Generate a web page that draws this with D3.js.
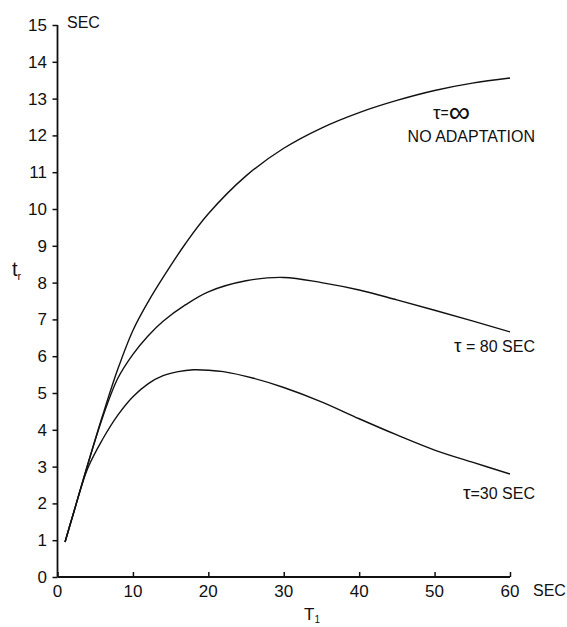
<!DOCTYPE html>
<html>
<head>
<meta charset="utf-8">
<script src="https://cdn.jsdelivr.net/npm/d3@7"></script>
<style>
  html, body { margin: 0; padding: 0; background: #fff; }
  svg text { font-family: "Liberation Sans", Arial, sans-serif; fill: #111; }
</style>
</head>
<body>
<svg id="chart" width="567" height="627"></svg>
<script>
// ---- data ----
const xTicks = [0, 10, 20, 30, 40, 50, 60];
const yTicks = [0, 1, 2, 3, 4, 5, 6, 7, 8, 9, 10, 11, 12, 13, 14, 15];
const T1 = [1, 2, 4, 6, 8, 10, 12, 14, 17, 20, 25, 30, 35, 40, 45, 50, 55, 60];
const noAdaptation = [0.95, 1.65, 3.05, 4.4, 5.65, 6.7, 7.47, 8.14, 9.07, 9.87, 10.9, 11.65, 12.2, 12.62, 12.95, 13.22, 13.42, 13.56];
const tau80 =        [0.95, 1.65, 3.05, 4.35, 5.4, 6.05, 6.55, 6.95, 7.4, 7.75, 8.05, 8.14, 8.0, 7.8, 7.53, 7.25, 6.96, 6.66];
const T1b = [1, 2, 4, 6, 8, 10, 12, 14, 16, 18, 20, 22, 26, 30, 35, 40, 45, 50, 55, 60];
const tau30 =        [0.95, 1.65, 2.95, 3.75, 4.4, 4.9, 5.25, 5.47, 5.58, 5.63, 5.62, 5.58, 5.4, 5.15, 4.76, 4.3, 3.86, 3.45, 3.12, 2.8];

const series = [
  { name: "inf", x: T1, y: noAdaptation },
  { name: "80", x: T1, y: tau80 },
  { name: "30", x: T1b, y: tau30 }
];

const svg = d3.select("#chart");
const x = d3.scaleLinear().domain([0, 60]).range([57.5, 510]);
const y = d3.scaleLinear().domain([0, 15]).range([577, 25]);

// axes
const xAxis = d3.axisTop(x).tickValues(xTicks).tickSize(5).tickFormat("");
const gx = svg.append("g").attr("transform", `translate(0,${y(0)})`).call(xAxis);
gx.select(".domain").attr("stroke", "#111").attr("stroke-width", 1.8).attr("d", `M${x(0)},0H${x(60)}`);
gx.selectAll(".tick line").attr("stroke", "#111").attr("stroke-width", 1.5);

const yAxis = d3.axisLeft(y).tickValues(yTicks).tickSize(5).tickFormat("");
const gy = svg.append("g").attr("transform", `translate(${x(0)},0)`).call(yAxis);
gy.select(".domain").attr("stroke", "#111").attr("stroke-width", 1.8).attr("d", `M0,${y(15)}V${y(0)}`);
gy.selectAll(".tick line").attr("stroke", "#111").attr("stroke-width", 1.5);

// tick labels
svg.append("g").selectAll("text").data(xTicks).join("text")
  .attr("x", d => x(d)).attr("y", 597)
  .attr("text-anchor", "middle").attr("font-size", 17)
  .text(d => d);
svg.append("g").selectAll("text").data(yTicks).join("text")
  .attr("x", 47).attr("y", d => y(d) + 6)
  .attr("text-anchor", "end").attr("font-size", 17)
  .text(d => d);

// units
svg.append("text").attr("x", 67).attr("y", 28).attr("font-size", 16).text("SEC");
svg.append("text").attr("x", 533).attr("y", 596).attr("font-size", 16).text("SEC");

// axis titles
const yt = svg.append("text").attr("x", 12).attr("y", 276).attr("font-size", 20);
yt.append("tspan").text("t");
yt.append("tspan").attr("font-size", 11).attr("dy", 4).text("r");
const xt = svg.append("text").attr("x", 304).attr("y", 620).attr("font-size", 17);
xt.append("tspan").text("T");
xt.append("tspan").attr("font-size", 10).attr("dy", 3).text("1");

// curves
const line = d3.line().x(d => x(d[0])).y(d => y(d[1])).curve(d3.curveCatmullRom.alpha(0.5));
svg.append("g").selectAll("path").data(series).join("path")
  .attr("d", s => line(s.x.map((v, i) => [v, s.y[i]])))
  .attr("fill", "none").attr("stroke", "#111").attr("stroke-width", 1.4);

// curve labels
const l1 = svg.append("text").attr("x", 433).attr("y", 119).attr("font-size", 19);
l1.append("tspan").text("τ");
l1.append("tspan").attr("font-size", 14).attr("dy", -1).text("=");
l1.append("tspan").attr("font-size", 30).attr("dy", 4).text("∞");
svg.append("text").attr("x", 535).attr("y", 142).attr("text-anchor", "end").attr("font-size", 16).text("NO ADAPTATION");
const l2 = svg.append("text").attr("x", 535).attr("y", 352).attr("text-anchor", "end").attr("font-size", 16);
l2.append("tspan").attr("font-size", 19).text("τ");
l2.append("tspan").text(" = 80 SEC");
const l3 = svg.append("text").attr("x", 535).attr("y", 499).attr("text-anchor", "end").attr("font-size", 16);
l3.append("tspan").attr("font-size", 19).text("τ");
l3.append("tspan").text("=30 SEC");
</script>
</body>
</html>
